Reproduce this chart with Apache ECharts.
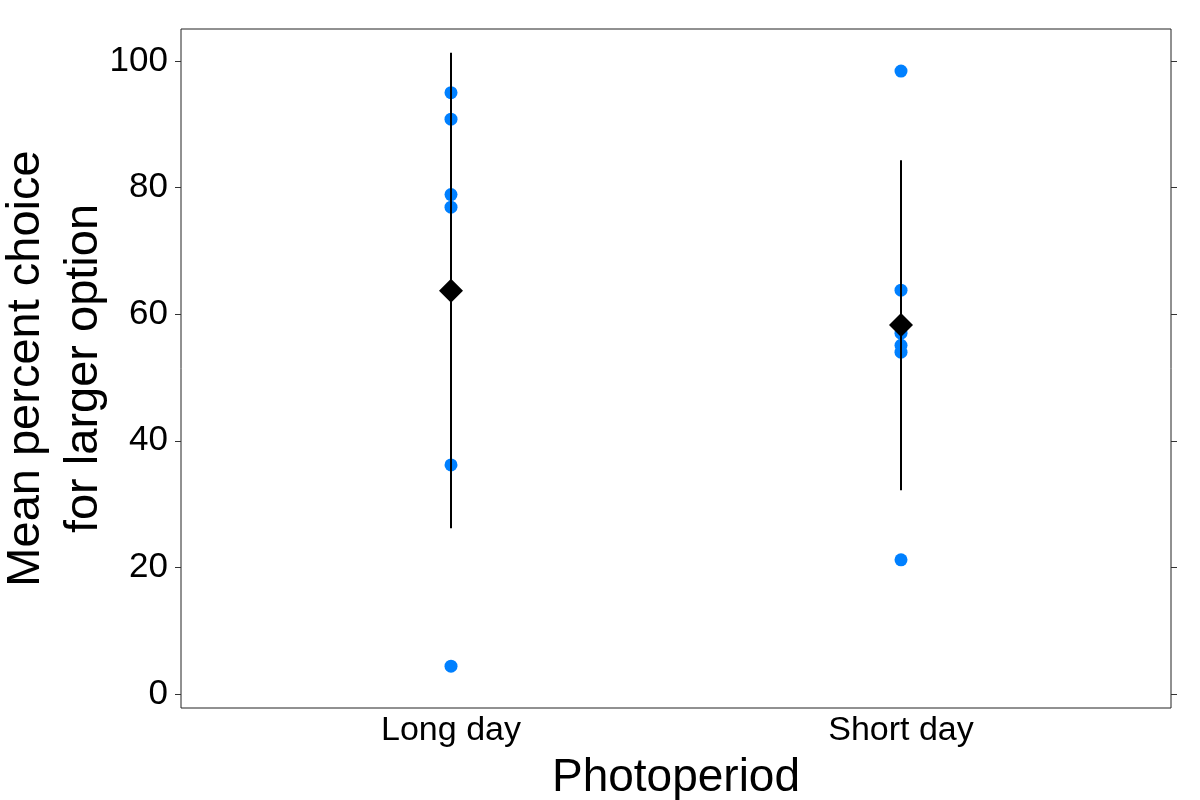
<!DOCTYPE html>
<html>
<head>
<meta charset="utf-8">
<script src="https://cdn.jsdelivr.net/npm/echarts@6/dist/echarts.min.js"></script>
<style>html,body{margin:0;padding:0;background:#fff}#c{width:1200px;height:800px}</style>
</head>
<body>
<div id="c"></div>
<script>
var categories = ['Long day', 'Short day'];
var longDayValues = [95.0, 90.8, 78.9, 76.9, 36.2, 4.4];
var shortDayValues = [98.4, 63.8, 57.0, 55.1, 54.0, 21.2];
var means = [63.7, 58.3];
var errLow = [26.2, 32.2];
var errHigh = [101.3, 84.3];
var yTicks = [0, 20, 40, 60, 80, 100];

var pts = [];
longDayValues.forEach(function (v) { pts.push([1, v]); });
shortDayValues.forEach(function (v) { pts.push([2, v]); });
var meanPts = means.map(function (m, i) { return [i + 1, m]; });
var errData = categories.map(function (c, i) { return [i + 1, errLow[i], errHigh[i]]; });

var font = '"Liberation Sans", Arial, sans-serif';
var chart = echarts.init(document.getElementById('c'), null, {renderer: 'canvas'});
chart.setOption({
  animation: false,
  backgroundColor: '#fff',
  grid: {left: 181, right: 29, top: 29, bottom: 92, show: true, borderColor: '#222', borderWidth: 1,
         backgroundColor: 'transparent', containLabel: false, outerBoundsMode: 'none'},
  xAxis: {
    type: 'value', min: 0.4, max: 2.6,
    name: 'Photoperiod', nameLocation: 'middle', nameGap: 47, nameMoveOverlap: false,
    nameTextStyle: {fontFamily: font, fontSize: 46, color: '#000'},
    axisLine: {show: false},
    axisTick: {show: false},
    splitLine: {show: false},
    axisLabel: {
      customValues: [1, 2], margin: 6,
      fontFamily: font, fontSize: 34, color: '#000',
      formatter: function (v) { return categories[Math.round(v) - 1] || ''; }
    }
  },
  yAxis: [{
    type: 'value', min: -2.2, max: 105.05, position: 'left',
    name: 'Mean percent choice\nfor larger option', nameLocation: 'middle', nameGap: 68, nameRotate: 90,
    nameMoveOverlap: false,
    nameTextStyle: {fontFamily: font, fontSize: 47, color: '#000', lineHeight: 58},
    axisLine: {show: false},
    axisTick: {show: true, customValues: yTicks, length: 6, lineStyle: {color: '#333'}},
    splitLine: {show: false},
    axisLabel: {customValues: yTicks, margin: 13, fontFamily: font, fontSize: 35, color: '#000'}
  }, {
    type: 'value', min: -2.2, max: 105.05, position: 'right',
    axisLine: {show: false},
    axisTick: {show: true, customValues: yTicks, length: 6, lineStyle: {color: '#333'}},
    splitLine: {show: false},
    axisLabel: {show: false}
  }],
  series: [{
    type: 'scatter', data: pts, symbol: 'circle', symbolSize: 13,
    itemStyle: {color: '#0080ff', opacity: 1}, z: 2
  }, {
    type: 'custom', data: errData, z: 3,
    renderItem: function (params, api) {
      var p1 = api.coord([api.value(0), api.value(1)]);
      var p2 = api.coord([api.value(0), api.value(2)]);
      return {type: 'line', shape: {x1: p1[0], y1: p1[1], x2: p2[0], y2: p2[1]}, style: {stroke: '#000', lineWidth: 2}};
    }
  }, {
    type: 'scatter', data: meanPts, symbol: 'diamond', symbolSize: [24, 24],
    itemStyle: {color: '#000', opacity: 1}, z: 4
  }]
});
</script>
</body>
</html>
